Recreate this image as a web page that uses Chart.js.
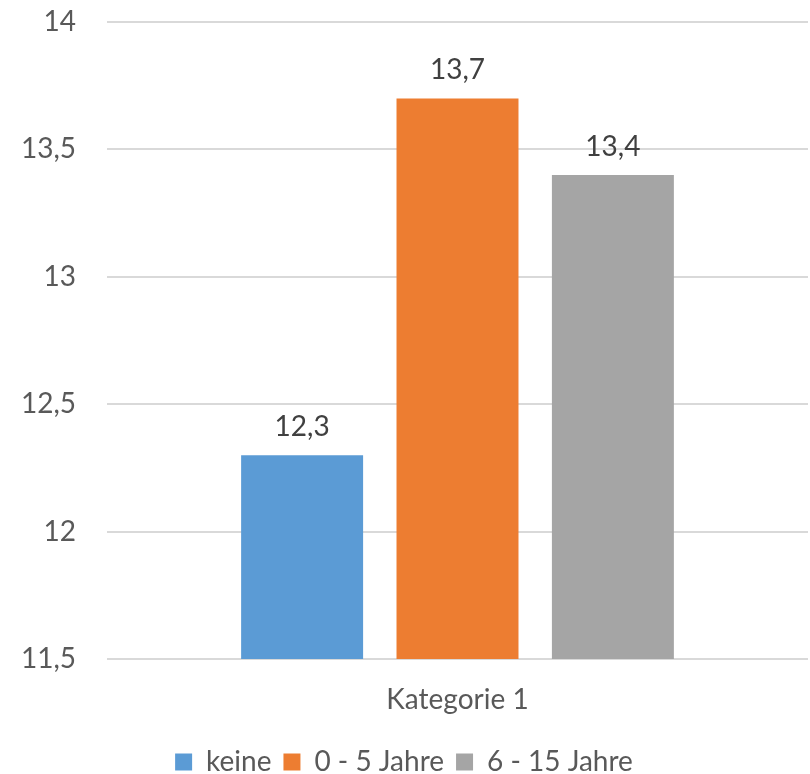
<!DOCTYPE html>
<html>
<head>
<meta charset="utf-8">
<script src="https://cdn.jsdelivr.net/npm/chart.js@4.4.1/dist/chart.umd.min.js"></script>
<style>
  html, body { margin: 0; padding: 0; background: #fff; }
  #wrap { width: 810px; height: 774px; position: relative; }
</style>
</head>
<body>
<div id="wrap"><canvas id="c"></canvas></div>
<script>
const categories = ['Kategorie 1'];
const seriesNames = ['keine', '0 - 5 Jahre', '6 - 15 Jahre'];
const seriesValues = [[12.3], [13.7], [13.4]];
const seriesColors = ['#5B9BD5', '#ED7D31', '#A5A5A5'];
const yTicks = [11.5, 12, 12.5, 13, 13.5, 14];

const FONT = 'Lato, "Open Sans", sans-serif';
const SIZE = 28;
const fmt = v => String(v).replace('.', ',');

// Writes each bar's value above it
const valueLabels = {
  id: 'valueLabels',
  afterDatasetsDraw(chart) {
    const ctx = chart.ctx;
    ctx.save();
    ctx.font = SIZE + 'px ' + FONT;
    ctx.fillStyle = '#404040';
    ctx.textAlign = 'center';
    ctx.textBaseline = 'middle';
    chart.data.datasets.forEach((ds, i) => {
      chart.getDatasetMeta(i).data.forEach((bar, j) => {
        ctx.fillText(fmt(ds.data[j]), bar.x, bar.y - 28);
      });
    });
    ctx.restore();
  }
};

new Chart(document.getElementById('c'), {
  type: 'bar',
  data: {
    labels: categories,
    datasets: seriesNames.map((name, i) => ({
      label: name,
      data: seriesValues[i],
      backgroundColor: seriesColors[i],
      categoryPercentage: 0.665,
      barPercentage: 0.785
    }))
  },
  options: {
    responsive: true,
    maintainAspectRatio: false,
    animation: false,
    layout: { padding: { top: 22, right: 2, bottom: -12, left: 0 } },
    scales: {
      x: {
        grid: { display: false },
        border: { display: false },
        afterFit: axis => { axis.height = 77; },
        ticks: { color: '#595959', font: { family: FONT, size: SIZE }, padding: 16 }
      },
      y: {
        min: 11.5,
        max: 14,
        afterBuildTicks: axis => { axis.ticks = yTicks.map(v => ({ value: v })); },
        afterFit: axis => {
          axis.width = 107;
          axis.paddingTop = 0;
          axis.paddingBottom = 0;
        },
        grid: { color: '#D9D9D9', lineWidth: 2, drawTicks: false },
        border: { display: false },
        ticks: {
          color: '#595959',
          font: { family: FONT, size: SIZE },
          padding: 31,
          callback: v => fmt(v)
        }
      }
    },
    plugins: {
      legend: {
        position: 'bottom',
        labels: {
          color: '#595959',
          font: { family: FONT, size: SIZE },
          boxWidth: 17,
          boxHeight: 17,
          padding: 12
        }
      },
      tooltip: { enabled: false }
    }
  },
  plugins: [valueLabels]
});
</script>
</body>
</html>
